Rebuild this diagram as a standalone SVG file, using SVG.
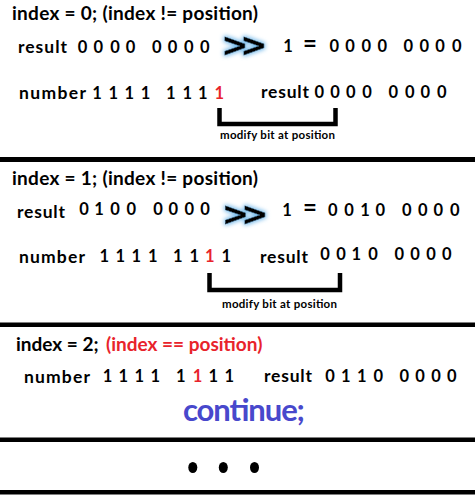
<svg xmlns="http://www.w3.org/2000/svg" width="475" height="498" viewBox="0 0 475 498">
<style>
.t{font-family:Lato,'Liberation Sans',sans-serif;font-weight:bold;fill:#000}
.h{font-size:19px}
.w{font-size:17.5px}
.d{font-size:16.5px;text-anchor:middle}
.red{fill:#e8232b}
.lbl{font-size:11.5px}
.op{font-family:'DejaVu Sans',sans-serif;font-weight:bold;font-size:32px;text-anchor:middle;stroke:#000;stroke-width:0.6}
.eq{font-size:24px}
.br{fill:none;stroke:#000;stroke-width:4.5}
.bar{fill:#000}
.cont{font-size:31px;fill:#4848cc}
</style>
<defs>
<filter id="glow" x="-40%" y="-40%" width="180%" height="180%">
<feMorphology in="SourceAlpha" operator="dilate" radius="1.2" result="d"/>
<feGaussianBlur in="d" stdDeviation="2" result="b"/>
<feFlood flood-color="#79bcec"/>
<feComposite in2="b" operator="in" result="g"/>
<feMerge><feMergeNode in="g"/><feMergeNode in="SourceGraphic"/></feMerge>
</filter>
</defs>
<rect width="475" height="498" fill="#fff"/>
<g id="dividers">
<rect class="bar" x="0" y="157" width="475" height="5"/>
<rect class="bar" x="0" y="322.5" width="475" height="4.5"/>
<rect class="bar" x="0" y="437.5" width="475" height="4.5"/>
<rect class="bar" x="0" y="490" width="475" height="4.5"/>
</g>
<g id="step0">
<text class="t h" x="12" y="20" textLength="246">index = 0; (index != position)</text>
<g id="step0-shift">
<text class="t w" x="18" y="53" textLength="49">result</text>
<text class="t d" x="82.5 90 98.3 106 115 122 130.5" y="53">0 0 0 0</text>
<text class="t d" x="156.7 164 172.5 180 188.8 196 204.7" y="53">0 0 0 0</text>
<text class="t op" x="235 254" y="55.5" filter="url(#glow)">&gt;&gt;</text>
<text class="t d" x="288 299 310" y="52">1 <tspan class="eq">=</tspan></text>
<text class="t d" x="334.2 342 350 358 366.3 374 382.2" y="52">0 0 0 0</text>
<text class="t d" x="408.3 416 424.2 432 440 448 456.7" y="52">0 0 0 0</text>
</g>
<g id="step0-number">
<text class="t w" x="19" y="99" textLength="67">number</text>
<text class="t d" x="97 105 113.2 121 129.2 137 145.5" y="99">1 1 1 1</text>
<text class="t d" x="170.8 179 187.2 195 202.8 211 219.2" y="99">1 1 1 <tspan class="red">1</tspan></text>
</g>
<g id="step0-result">
<text class="t w" x="261" y="98" textLength="48">result</text>
<text class="t d" x="319.2 327 335 343 350.8 359 367" y="98">0 0 0 0</text>
<text class="t d" x="393.3 401 409.7 417 425.3 433 441.7" y="98">0 0 0 0</text>
</g>
<text id="step0-label" class="t lbl" x="220" y="139" textLength="115">modify bit at position</text>
</g>
<g id="step1">
<text class="t h" x="12" y="185" textLength="246">index = 1; (index != position)</text>
<g id="step1-shift">
<text class="t w" x="17" y="218" textLength="48">result</text>
<text class="t d" x="84 91.5 99 107 115 123 131.3" y="215">0 1 0 0</text>
<text class="t d" x="158 166 173.3 181 189.3 197 205" y="215">0 0 0 0</text>
<text class="t op" x="235.5 255" y="225" filter="url(#glow)">&gt;&gt;</text>
<text class="t d" x="287 298 310" y="216">1 <tspan class="eq">=</tspan></text>
<text class="t d" x="332.7 341 349 357 365 373 380.3" y="216">0 0 1 0</text>
<text class="t d" x="406.7 414 422.7 430 438.3 446 454.7" y="216">0 0 0 0</text>
</g>
<g id="step1-number">
<text class="t w" x="19" y="263" textLength="66">number</text>
<text class="t d" x="104.2 112 120.3 128 136.2 144 152.8" y="262">1 1 1 1</text>
<text class="t d" x="177.8 186 194.2 202 209.7 218 226.3" y="262">1 1 <tspan class="red">1</tspan> 1</text>
</g>
<g id="step1-result">
<text class="t w" x="260" y="263" textLength="48">result</text>
<text class="t d" x="325 333 341 349 356.3 365 373" y="260">0 0 1 0</text>
<text class="t d" x="399.3 407 415 423 431 439 446.7" y="260">0 0 0 0</text>
</g>
<text id="step1-label" class="t lbl" x="222" y="308" textLength="115">modify bit at position</text>
</g>
<g id="step2">
<text class="t h" x="16" y="351">index = 2; <tspan class="red" x="106">(index == position)</tspan></text>
<g id="step2-number">
<text class="t w" x="24" y="383" textLength="66">number</text>
<text class="t d" x="107.5 115 123.3 131 139.2 147 155.2" y="382">1 1 1 1</text>
<text class="t d" x="180.8 189 197.5 205 213.2 221 229.2" y="382">1 <tspan class="red">1</tspan> 1 1</text>
</g>
<g id="step2-result">
<text class="t w" x="264" y="382" textLength="48">result</text>
<text class="t d" x="330 338 345.8 354 361.7 370 378.3" y="382">0 1 1 0</text>
<text class="t d" x="404.3 412 420 428 436 444 451.7" y="382">0 0 0 0</text>
</g>
<text id="step2-continue" class="t cont" x="183" y="421" textLength="122">continue;</text>
</g>
<g id="ellipsis">
<ellipse cx="192.8" cy="467.5" rx="4.5" ry="5.5"/>
<ellipse cx="223.3" cy="467.5" rx="4.5" ry="5.5"/>
<ellipse cx="254.5" cy="467.5" rx="4.5" ry="5.5"/>
</g>
<g id="connectors">
<path class="br" d="M219.5,108 V124 H335.5 V108"/>
<path class="br" d="M209.5,273 V290 H340 V273"/>
</g>
</svg>
